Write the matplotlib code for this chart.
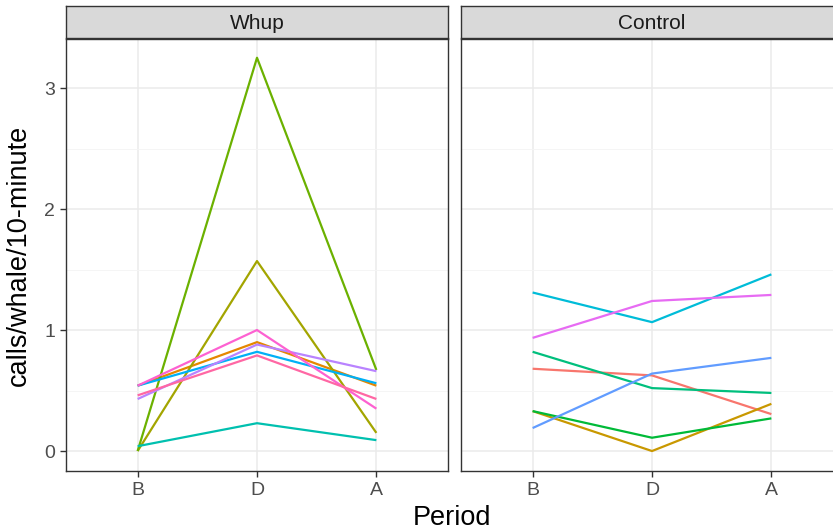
import matplotlib
matplotlib.use("Agg")
import matplotlib.pyplot as plt
from matplotlib.ticker import MultipleLocator

plt.rcParams['font.family'] = ['Liberation Sans', 'DejaVu Sans']

periods = ["B", "D", "A"]

# calls/whale/10-minute per whale, one row per whale
whup_whales = ["w02", "w04", "w05", "w08", "w10", "w12", "w14", "w15"]
whup_calls = [
    [0.54, 0.90, 0.54],
    [0.00, 1.57, 0.15],
    [0.00, 3.25, 0.67],
    [0.04, 0.23, 0.09],
    [0.54, 0.82, 0.56],
    [0.43, 0.88, 0.66],
    [0.54, 1.00, 0.35],
    [0.46, 0.79, 0.43],
]

control_whales = ["w01", "w03", "w06", "w07", "w09", "w11", "w13"]
control_calls = [
    [0.68, 0.625, 0.305],
    [0.33, 0.00, 0.39],
    [0.33, 0.11, 0.27],
    [0.82, 0.52, 0.48],
    [1.31, 1.065, 1.46],
    [0.19, 0.64, 0.77],
    [0.935, 1.24, 1.29],
]

palette = {
    "w01": "#F8766D", "w02": "#E58700", "w03": "#C99800", "w04": "#A3A500",
    "w05": "#6BB100", "w06": "#00BA38", "w07": "#00BF7D", "w08": "#00C0AF",
    "w09": "#00BCD8", "w10": "#00B0F6", "w11": "#619CFF", "w12": "#B983FF",
    "w13": "#E76BF3", "w14": "#FD61D1", "w15": "#FF67A4",
}

W, H = 833, 531
fig = plt.figure(figsize=(W / 100, H / 100), dpi=100)

panel_w = 382 / W
panel_b = (H - 471) / H
panel_h = 432 / H
strip_b = (H - 38) / H
strip_h = 32 / H

panels = [("Whup", 66, whup_whales, whup_calls),
          ("Control", 461, control_whales, control_calls)]

for i, (title, x0, whales, calls) in enumerate(panels):
    ax = fig.add_axes([x0 / W, panel_b, panel_w, panel_h])
    xs = range(len(periods))
    for whale, vals in zip(whales, calls):
        ax.plot(xs, vals, color=palette[whale], lw=1.6, solid_capstyle='butt')
    ax.set_xlim(-0.6, 2.6)
    ax.set_ylim(-0.165, 3.405)
    ax.set_xticks(list(xs))
    ax.set_xticklabels(periods)
    ax.yaxis.set_major_locator(MultipleLocator(1))
    ax.yaxis.set_minor_locator(MultipleLocator(0.5))
    ax.grid(True, which='major', color='#EBEBEB', lw=1.1)
    ax.grid(True, which='minor', axis='y', color='#F4F4F4', lw=0.6)
    ax.set_axisbelow(True)
    for s in ax.spines.values():
        s.set_color('#333333')
        s.set_linewidth(1.0)
    ax.tick_params(axis='both', which='major', length=4.5, width=1.0, color='#333333',
                   labelcolor='#4D4D4D', labelsize=14, pad=3.5)
    ax.tick_params(axis='y', which='minor', length=0)
    if i > 0:
        ax.tick_params(axis='y', labelleft=False, left=False)

    sax = fig.add_axes([x0 / W, strip_b, panel_w, strip_h])
    sax.set_facecolor('#D9D9D9')
    sax.set_xticks([])
    sax.set_yticks([])
    for s in sax.spines.values():
        s.set_color('#333333')
        s.set_linewidth(1.0)
    sax.text(0.5, 0.45, title, ha='center', va='center', fontsize=15,
             color='#1A1A1A', transform=sax.transAxes)

fig.text(452 / W, 1 - 518 / H, "Period", ha='center', va='center', fontsize=19.5)
fig.text(19 / W, 1 - 255 / H, "calls/whale/10-minute", ha='center', va='center',
         rotation=90, fontsize=19.5)

fig.savefig("out.png", dpi=100)
